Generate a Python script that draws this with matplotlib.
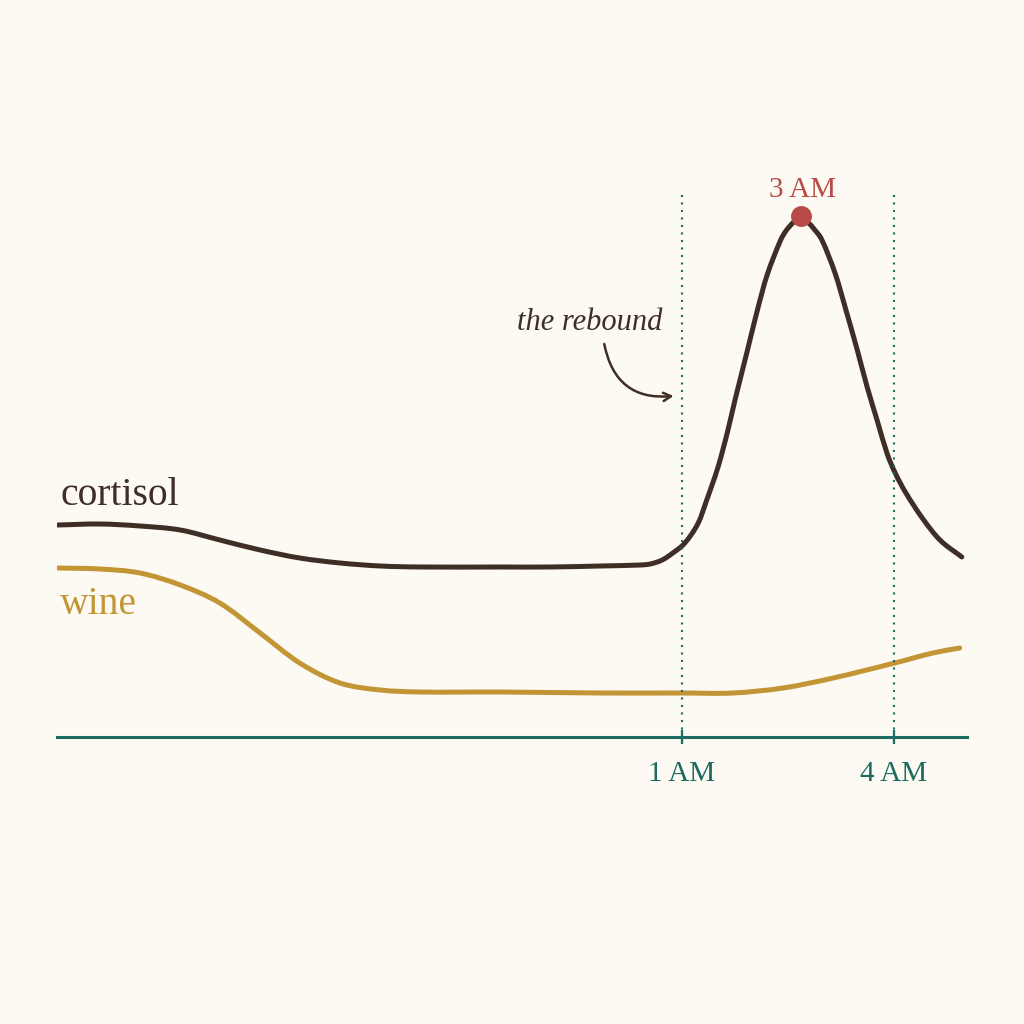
import matplotlib
matplotlib.use('Agg')
import matplotlib.pyplot as plt
from matplotlib.path import Path
from matplotlib.patches import PathPatch

# hours relative to midnight (1 = 1 AM), levels in arbitrary units
cortisol_x = [-7.83, -7.24, -6.67, -6.10, -5.54, -4.97, -4.41, -3.84, -3.27, -2.71,
              -1.58, -0.87, -0.16, 0.41, 0.55, 0.72, 0.87, 1.04, 1.23, 1.35,
              1.51, 1.64, 1.75, 1.92, 2.06, 2.20, 2.39, 2.47, 2.58, 2.68,
              2.78, 2.88, 2.98, 3.17, 3.32, 3.48, 3.62, 3.76, 3.90, 4.01,
              4.16, 4.40, 4.65, 4.96]
cortisol_y = [21.2, 21.3, 21.1, 20.7, 19.7, 18.7, 17.9, 17.4, 17.1, 17.0,
              17.0, 17.0, 17.1, 17.2, 17.3, 17.7, 18.4, 19.4, 21.4, 23.7,
              27.0, 30.4, 33.7, 38.5, 42.5, 46.1, 49.6, 50.6, 51.5, 52.1,
              51.5, 50.7, 49.7, 46.3, 42.7, 38.7, 35.0, 31.7, 28.4, 26.5,
              24.5, 21.9, 19.7, 18.0]

wine_x = [-7.83, -7.24, -6.67, -6.10, -5.54, -4.97, -4.41, -3.84, -3.27, -2.71,
          -1.58, -0.16, 1.00, 1.72, 2.43, 3.14, 4.01, 4.55, 4.93]
wine_y = [16.9, 16.8, 16.4, 15.2, 13.4, 10.4, 7.4, 5.4, 4.7, 4.5,
          4.5, 4.4, 4.4, 4.4, 4.9, 5.9, 7.4, 8.4, 8.9]

tick_pos = [1, 4]
tick_labels = ['1 AM', '4 AM']
peak_x, peak_y, peak_label = 2.68, 52.1, '3 AM'

BG = '#FCFAF3'
BROWN = '#3F2E25'
GOLD = '#C29535'
TEAL = '#1B6B60'
RED = '#B84A48'
FONT = 'Liberation Serif'


def smooth_path(xs, ys):
    # cubic hermite through the read points, drawn as bezier segments
    n = len(xs)
    slopes = []
    for i in range(n):
        a, b = max(i - 1, 0), min(i + 1, n - 1)
        slopes.append((ys[b] - ys[a]) / (xs[b] - xs[a]))
    verts = [(xs[0], ys[0])]
    codes = [Path.MOVETO]
    for i in range(n - 1):
        dx = (xs[i + 1] - xs[i]) / 3
        verts += [(xs[i] + dx, ys[i] + slopes[i] * dx),
                  (xs[i + 1] - dx, ys[i + 1] - slopes[i + 1] * dx),
                  (xs[i + 1], ys[i + 1])]
        codes += [Path.CURVE4] * 3
    return Path(verts, codes)


fig = plt.figure(figsize=(10.24, 10.24), dpi=100, facecolor=BG)
ax = fig.add_axes([57 / 1024, 287 / 1024, 910 / 1024, 637 / 1024])
ax.set_facecolor(BG)
ax.set_xlim(-7.844, 5.033)
ax.set_ylim(0, 63.7)

for s in ['left', 'right', 'top']:
    ax.spines[s].set_visible(False)
ax.spines['bottom'].set_color(TEAL)
ax.spines['bottom'].set_linewidth(2.2)
ax.set_yticks([])
ax.set_xticks(tick_pos)
ax.set_xticklabels(tick_labels, fontfamily=FONT, fontsize=21, color=TEAL)
ax.tick_params(axis='x', direction='inout', length=10, width=1.6, color=TEAL, pad=12)

# dotted guides at 1 AM and 4 AM
ax.vlines(tick_pos, 0, 54.2, colors=TEAL, linewidth=1.5, linestyles=(0, (1, 2.6)))

for xs, ys, c in [(wine_x, wine_y, GOLD), (cortisol_x, cortisol_y, BROWN)]:
    ax.add_patch(PathPatch(smooth_path(xs, ys), fill=False, edgecolor=c, lw=3.6,
                           capstyle='round', joinstyle='round'))

ax.plot([peak_x], [peak_y], 'o', color=RED, ms=14, zorder=5)
ax.text(peak_x + 0.03, 54.0, peak_label, fontfamily=FONT, fontsize=21, color=RED,
        ha='center', va='baseline')

ax.text(-7.80, 23.2, 'cortisol', fontfamily=FONT, fontsize=28.5, color=BROWN,
        ha='left', va='baseline')
ax.text(-7.80, 12.3, 'wine', fontfamily=FONT, fontsize=28.5, color=GOLD,
        ha='left', va='baseline')

ax.text(-0.30, 40.7, 'the rebound', fontfamily=FONT, fontstyle='italic', fontsize=22,
        color=BROWN, ha='center', va='baseline')
ax.annotate('', xy=(0.88, 34.1), xytext=(-0.10, 39.3),
            arrowprops=dict(arrowstyle='->,head_length=0.55,head_width=0.3', color=BROWN,
                            lw=1.8, connectionstyle='arc3,rad=0.45',
                            shrinkA=0, shrinkB=0))

fig.savefig('out.png', dpi=100, facecolor=BG)
